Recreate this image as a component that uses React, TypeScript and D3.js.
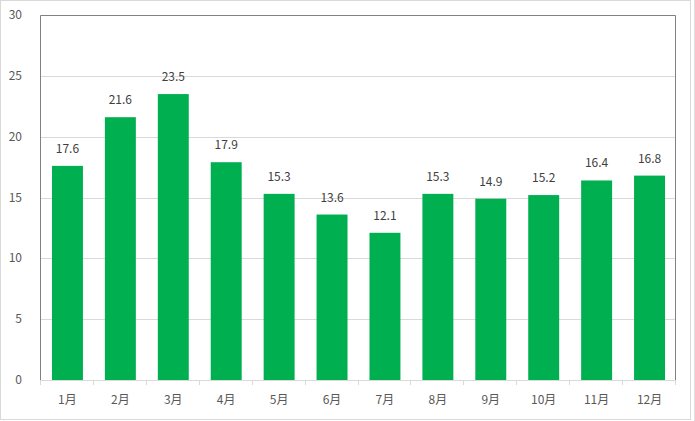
import React, { useEffect, useRef } from 'react';
import * as d3 from 'd3';

// Datos del gráfico
const months = ['1月', '2月', '3月', '4月', '5月', '6月', '7月', '8月', '9月', '10月', '11月', '12月'];
const values = [17.6, 21.6, 23.5, 17.9, 15.3, 13.6, 12.1, 15.3, 14.9, 15.2, 16.4, 16.8];
const yTicks = [0, 5, 10, 15, 20, 25, 30];

const App: React.FC = () => {
    const ref = useRef<SVGSVGElement>(null);

    useEffect(() => {
        const svg = d3.select(ref.current);
        svg.selectAll('*').remove();

        const width = 695;
        const height = 421;
        const left = 40;
        const right = 675;
        const top = 15;
        const bottom = 380;
        const font = '"Noto Sans CJK SC", "Noto Sans", sans-serif';
        const textColor = '#595959';

        // marco exterior
        svg.append('rect')
            .attr('x', 0.5).attr('y', 0.5)
            .attr('width', 690).attr('height', 419)
            .attr('fill', '#fff').attr('stroke', '#d9d9d9');
        svg.append('line')
            .attr('x1', 694.5).attr('x2', 694.5).attr('y1', 0).attr('y2', 421)
            .attr('stroke', '#e0e0e0');

        // escala x (desplazada 1px como en el original)
        const x = d3.scaleBand<string>()
            .domain(months)
            .range([left + 1, right + 1])
            .paddingInner(0.415)
            .paddingOuter(0.2075);

        const y = d3.scaleLinear().domain([0, 30]).range([bottom, top]);

        // líneas de cuadrícula
        svg.append('g')
            .selectAll('line')
            .data(yTicks.filter((t) => t > 0 && t < 30))
            .enter()
            .append('line')
            .attr('x1', left).attr('x2', right)
            .attr('y1', (d) => Math.round(y(d)) + 0.5)
            .attr('y2', (d) => Math.round(y(d)) + 0.5)
            .attr('stroke', '#d9d9d9');

        // barras
        svg.append('g')
            .selectAll('rect')
            .data(values)
            .enter()
            .append('rect')
            .attr('x', (d, i) => x(months[i]) || 0)
            .attr('y', (d) => y(d))
            .attr('width', x.bandwidth())
            .attr('height', (d) => bottom - y(d))
            .attr('fill', '#00b050');

        // etiquetas de datos
        svg.append('g')
            .selectAll('text')
            .data(values)
            .enter()
            .append('text')
            .attr('x', (d, i) => (x(months[i]) || 0) + x.bandwidth() / 2)
            .attr('y', (d) => y(d) - 13)
            .attr('text-anchor', 'middle')
            .style('font-family', font)
            .style('font-size', '12px')
            .attr('fill', '#404040')
            .text((d) => d.toFixed(1));

        // borde del área de trazado
        svg.append('path')
            .attr('d', `M${left + 0.5},${bottom}V${top + 0.5}H${right + 0.5}V${bottom}`)
            .attr('fill', 'none')
            .attr('stroke', '#808080');

        // eje x
        const step = (right - left) / months.length;
        svg.append('line')
            .attr('x1', left).attr('x2', right + 1)
            .attr('y1', bottom + 0.5).attr('y2', bottom + 0.5)
            .attr('stroke', '#d9d9d9');
        svg.append('g')
            .selectAll('line')
            .data(d3.range(months.length + 1))
            .enter()
            .append('line')
            .attr('x1', (i) => Math.round(left + i * step) + 0.5)
            .attr('x2', (i) => Math.round(left + i * step) + 0.5)
            .attr('y1', bottom).attr('y2', bottom + 5)
            .attr('stroke', '#d9d9d9');
        svg.append('g')
            .selectAll('text')
            .data(months)
            .enter()
            .append('text')
            .attr('x', (d) => (x(d) || 0) + x.bandwidth() / 2)
            .attr('y', 404)
            .attr('text-anchor', 'middle')
            .style('font-family', font)
            .style('font-size', '12px')
            .attr('fill', textColor)
            .text((d) => d);

        // eje y
        svg.append('g')
            .selectAll('text')
            .data(yTicks)
            .enter()
            .append('text')
            .attr('x', 22)
            .attr('y', (d) => y(d) + 4)
            .attr('text-anchor', 'end')
            .style('font-family', font)
            .style('font-size', '12px')
            .attr('fill', textColor)
            .text((d) => d);

        svg.attr('width', width).attr('height', height);
    }, []);

    return (
        <svg
            ref={ref}
            width={695}
            height={421}
            style={{ position: 'absolute', left: 0, top: 0, display: 'block' }}
        ></svg>
    );
};

export default App;
